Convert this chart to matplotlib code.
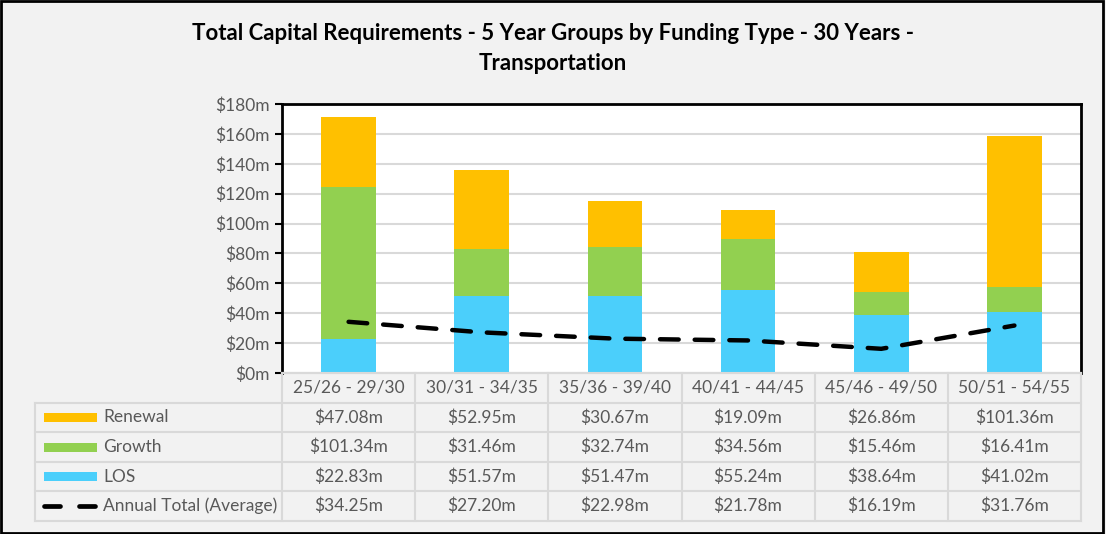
import matplotlib
matplotlib.use("Agg")
import matplotlib.pyplot as plt
from matplotlib.patches import Rectangle
from matplotlib.lines import Line2D
import numpy as np

plt.rcParams['font.family'] = ['Lato', 'DejaVu Sans']

categories = ["25/26 - 29/30", "30/31 - 34/35", "35/36 - 39/40",
              "40/41 - 44/45", "45/46 - 49/50", "50/51 - 54/55"]
renewal = [47.08, 52.95, 30.67, 19.09, 26.86, 101.36]
growth = [101.34, 31.46, 32.74, 34.56, 15.46, 16.41]
los = [22.83, 51.57, 51.47, 55.24, 38.64, 41.02]
annual_avg = [34.25, 27.20, 22.98, 21.78, 16.19, 31.76]
yticks = [0, 20, 40, 60, 80, 100, 120, 140, 160, 180]
title_l1 = "Total Capital Requirements - 5 Year Groups by Funding Type - 30 Years -"
title_l2 = "Transportation"

C_REN = "#FFC000"
C_GRO = "#92D050"
C_LOS = "#4BCFFB"
TXT = "#595959"
GRID = "#D9D9D9"
BG = "#F2F2F2"

W, H = 1106, 534
fig = plt.figure(figsize=(W / 100, H / 100), dpi=100)
fig.patch.set_facecolor(BG)

def fx(px):
    return px / W

def fy(py):
    return 1 - py / H

L, R, T, B = 282, 1081, 104, 373
ax = fig.add_axes([fx(L), fy(B), fx(R - L), (B - T) / H])
ax.set_facecolor("white")
x = np.arange(len(categories))
bw = 0.41
ax.bar(x, los, bw, color=C_LOS, zorder=3)
ax.bar(x, growth, bw, bottom=los, color=C_GRO, zorder=3)
ax.bar(x, renewal, bw, bottom=np.array(los) + np.array(growth), color=C_REN, zorder=3)
ax.plot(x, annual_avg, color="black", lw=3.2, linestyle=(0, (4.2, 3.6)),
        dash_capstyle="round", zorder=4)
ax.set_xlim(-0.5, len(categories) - 0.5)
ax.set_ylim(0, 180)
ax.set_yticks(yticks)
ax.set_yticklabels([f"${v}m" for v in yticks], color=TXT, fontsize=12.5)
ax.set_xticks([])
ax.yaxis.grid(True, color=GRID, lw=1.5, zorder=0)
ax.tick_params(axis="y", length=5, width=1.5, color="black", pad=4)
for s in ["left", "top", "right"]:
    ax.spines[s].set_color("black")
    ax.spines[s].set_linewidth(2)
ax.spines["bottom"].set_color(GRID)
ax.spines["bottom"].set_linewidth(1.5)

# Data table below the chart
TL = 35
TB = 521
rows = 5
rh = (TB - B) / rows
tax = fig.add_axes([fx(L), fy(TB), fx(R - L), (TB - B) / H])
tax.set_xlim(-0.5, len(categories) - 0.5)
tax.set_ylim(rows, 0)
tax.axis("off")
colw = (R - L) / len(categories)
xl = -0.5 - (L - TL) / colw
lk = dict(color=GRID, lw=1.5, clip_on=False)
tax.plot([-0.5, len(categories) - 0.5], [0, 0], **lk)
for r in range(1, rows + 1):
    tax.plot([xl, len(categories) - 0.5], [r, r], **lk)
for c in range(len(categories) + 1):
    tax.plot([c - 0.5, c - 0.5], [0, rows], **lk)
tax.plot([xl, xl], [1, rows], **lk)

FS = 12.5
for i, cat in enumerate(categories):
    tax.text(i, 0.5, cat, ha="center", va="center", color=TXT, fontsize=FS)

series = [("Renewal", renewal, C_REN), ("Growth", growth, C_GRO), ("LOS", los, C_LOS)]
px2d = 1 / colw
for r, (name, vals, col) in enumerate(series, start=1):
    tax.add_patch(Rectangle((xl + 9 * px2d, r + 0.5 - 4.5 / rh), 53 * px2d, 9 / rh,
                            facecolor=col, edgecolor="none", clip_on=False))
    tax.text(xl + 68 * px2d, r + 0.5, name, ha="left", va="center", color=TXT, fontsize=FS)
    for i, v in enumerate(vals):
        tax.text(i, r + 0.5, f"${v:.2f}m", ha="center", va="center", color=TXT, fontsize=FS)

r = 4
for a, b in [(9, 25), (44, 60)]:
    tax.add_line(Line2D([xl + a * px2d, xl + b * px2d], [r + 0.5, r + 0.5], color="black",
                        lw=3.4, solid_capstyle="round", clip_on=False))
tax.text(xl + 68 * px2d, r + 0.5, "Annual Total (Average)", ha="left", va="center",
         color=TXT, fontsize=FS)
for i, v in enumerate(annual_avg):
    tax.text(i, r + 0.5, f"${v:.2f}m", ha="center", va="center", color=TXT, fontsize=FS)

fig.text(0.5, fy(34), title_l1, ha="center", va="center", fontsize=16, fontweight="bold",
         color="black")
fig.text(0.5, fy(63), title_l2, ha="center", va="center", fontsize=16, fontweight="bold",
         color="black")

fig.add_artist(Rectangle((0.001, 0.002), 0.996, 0.996, transform=fig.transFigure,
                         facecolor="none", edgecolor="black", lw=2))

fig.savefig("out.png", dpi=100, facecolor=BG)
